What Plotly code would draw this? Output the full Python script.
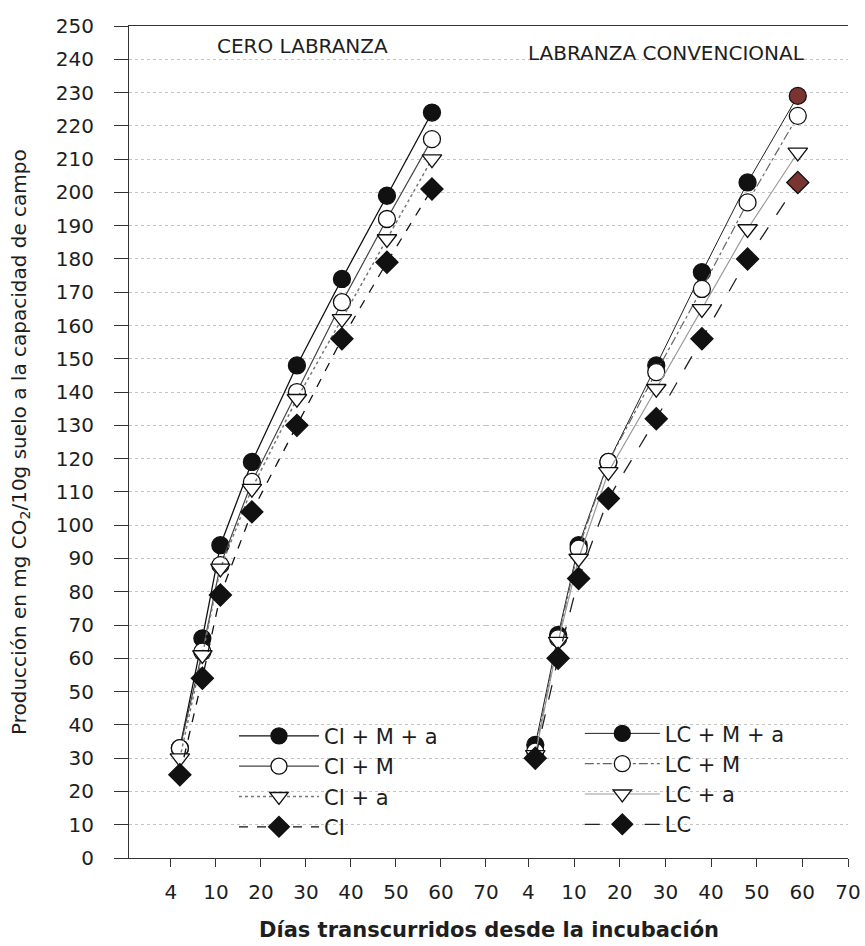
import plotly.graph_objects as go

# ---- data ----
dias_cl = [2, 7, 11, 18, 28, 38, 48, 58]
dias_lc = [1.5, 6.5, 11, 17.5, 28, 38, 48, 59]

cl_m_a = [33, 66, 94, 119, 148, 174, 199, 224]
cl_m = [33, 62, 88, 113, 140, 167, 192, 216]
cl_a = [30, 61, 87, 111, 138, 162, 186, 210]
cl = [25, 54, 79, 104, 130, 156, 179, 201]

lc_m_a = [34, 67, 94, 119, 148, 176, 203, 229]
lc_m = [32, 66, 93, 119, 146, 171, 197, 223]
lc_a = [31, 65, 90, 116, 141, 165, 189, 212]
lc = [30, 60, 84, 108, 132, 156, 180, 203]

x_tickvals = [0, 10, 20, 30, 40, 50, 60, 70]
x_ticktext = ["4", "10", "20", "30", "40", "50", "60", "70"]
y_ticks = list(range(0, 251, 10))

FONT = "DejaVu Sans, Verdana, sans-serif"
INK = "#1e1e1e"
BROWN = "#7a3532"

fig = go.Figure()


def add(x, y, name, xa, legend, symbol, mcolor, lcolor, dash, width):
    fig.add_trace(go.Scatter(
        x=x, y=y, name=name, xaxis=xa, yaxis="y", legend=legend,
        mode="lines+markers",
        line=dict(color=lcolor, dash=dash, width=width),
        marker=dict(symbol=symbol, size=17, color=mcolor,
                    line=dict(color="#111", width=1.3)),
    ))


# Cero labranza
add(dias_cl, cl_m_a, "CI + M + a", "x", "legend", "circle", "#111", "#111", "solid", 1.3)
add(dias_cl, cl_m, "CI + M", "x", "legend", "circle", "white", "#444", "solid", 1.2)
add(dias_cl, cl_a, "CI + a", "x", "legend", "triangle-down", "white", "#777", "dot", 1.5)
add(dias_cl, cl, "CI", "x", "legend", "diamond", "#111", "#111", "dash", 1.3)

# Labranza convencional
mc1 = ["#111"] * 7 + [BROWN]
add(dias_lc, lc_m_a, "LC + M + a", "x2", "legend2", "circle", mc1, "#222", "solid", 1.0)
add(dias_lc, lc_m, "LC + M", "x2", "legend2", "circle", "white", "#666", "dashdot", 1.2)
add(dias_lc, lc_a, "LC + a", "x2", "legend2", "triangle-down", "white", "#999", "solid", 1.2)
add(dias_lc, lc, "LC", "x2", "legend2", "diamond", mc1, "#222", "longdash", 1.3)

axis_common = dict(
    range=[-9.3, 70], tickvals=x_tickvals, ticktext=x_ticktext,
    ticks="outside", ticklen=8, tickcolor="#333", showline=True, linecolor="#333",
    linewidth=1.2, mirror=True, showgrid=False, zeroline=False,
    ticklabelstandoff=8, ticklabeloverflow="allow",
    tickfont=dict(family=FONT, size=20, color=INK),
)

fig.update_layout(
    width=865, height=946,
    paper_bgcolor="white", plot_bgcolor="white",
    margin=dict(l=129, r=17, t=26, b=88, autoexpand=False),
    showlegend=True,
    xaxis=dict(domain=[0, 0.4965], **axis_common),
    xaxis2=dict(domain=[0.4965, 1], **axis_common),
    yaxis=dict(range=[0, 250], tickvals=y_ticks, ticks="outside", ticklen=14,
               tickcolor="#333", showline=True, linecolor="#333", linewidth=1.2,
               showgrid=True, gridcolor="#c4c4c4", griddash="dot", gridwidth=1,
               zeroline=False, automargin=False, ticklabelstandoff=16,
               tickfont=dict(family=FONT, size=20, color=INK)),
    legend=dict(x=0.146, y=0.171, xanchor="left", yanchor="top", bgcolor="rgba(0,0,0,0)",
                font=dict(family=FONT, size=21, color=INK), itemwidth=80,
                tracegroupgap=0),
    legend2=dict(x=0.627, y=0.174, xanchor="left", yanchor="top", bgcolor="rgba(0,0,0,0)",
                 font=dict(family=FONT, size=21, color=INK), itemwidth=75,
                 tracegroupgap=0),
    annotations=[
        dict(text="CERO LABRANZA", xref="paper", yref="paper", x=0.241, y=0.976,
             xanchor="center", yanchor="middle", showarrow=False,
             font=dict(family=FONT, size=20, color=INK)),
        dict(text="LABRANZA CONVENCIONAL", xref="paper", yref="paper", x=0.747, y=0.9675,
             xanchor="center", yanchor="middle", showarrow=False,
             font=dict(family=FONT, size=20, color=INK)),
        dict(text="Producción en mg CO<sub>2</sub>/10g suelo a la capacidad de campo",
             xref="paper", yref="paper", x=-0.1516, y=0.5, textangle=-90,
             xanchor="center", yanchor="middle", showarrow=False,
             font=dict(family=FONT, size=20, color=INK)),
        dict(text="<b>Días transcurridos desde la incubación</b>", xref="paper", yref="paper",
             x=0.5, y=-0.0865, xanchor="center", yanchor="middle", showarrow=False,
             font=dict(family=FONT, size=21, color=INK)),
    ],
)

fig.write_html(
    "out.html",
    config={"displayModeBar": False},
    post_script="document.body.style.margin='0';document.body.style.overflow='hidden';",
)
